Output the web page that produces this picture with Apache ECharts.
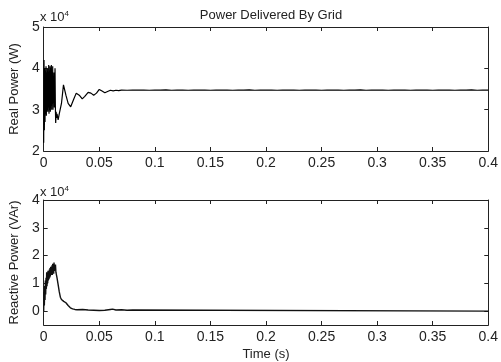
<!DOCTYPE html>
<html>
<head>
<meta charset="utf-8">
<title>Power Delivered By Grid</title>
<script src="https://cdn.jsdelivr.net/npm/echarts@6/dist/echarts.min.js"></script>
<style>
  html, body { margin: 0; padding: 0; background: #fff; }
  #chart { width: 501px; height: 362px; }
</style>
</head>
<body>
<div id="chart"></div>
<script>
// time ticks shared by both plots
const timeTicks = [0, 0.05, 0.1, 0.15, 0.2, 0.25, 0.3, 0.35, 0.4];
const realTicks = [20000, 30000, 40000, 50000];
const reactTicks = [0, 10000, 20000, 30000, 40000];

// real power (W)
const timeP = [
  0, 0.0003, 0.0006, 0.0009, 0.0012, 0.0015, 0.0018, 0.0021, 0.0024, 0.0027,
  0.003, 0.0033, 0.0036, 0.0039, 0.0042, 0.0045, 0.0048, 0.0051, 0.0054, 0.0057,
  0.006, 0.0063, 0.0066, 0.0069, 0.0072, 0.0075, 0.0078, 0.0081, 0.0084, 0.0087,
  0.009, 0.0093, 0.0096, 0.0099, 0.0102, 0.0105, 0.0108, 0.0112, 0.0116, 0.012,
  0.013, 0.014, 0.015, 0.016, 0.0178, 0.02, 0.022, 0.0243, 0.027, 0.0293,
  0.032, 0.0347, 0.037, 0.04, 0.0425, 0.045, 0.0475, 0.05, 0.0525, 0.055,
  0.0575, 0.06, 0.0625, 0.065, 0.0675, 0.07, 0.075, 0.08, 0.085, 0.09,
  0.095, 0.1, 0.105, 0.11, 0.115, 0.12, 0.125, 0.13, 0.135, 0.14,
  0.145, 0.15, 0.155, 0.16, 0.165, 0.17, 0.175, 0.18, 0.185, 0.19,
  0.195, 0.2, 0.205, 0.21, 0.215, 0.22, 0.225, 0.23, 0.235, 0.24,
  0.245, 0.25, 0.255, 0.26, 0.265, 0.27, 0.275, 0.28, 0.285, 0.29,
  0.295, 0.3, 0.305, 0.31, 0.315, 0.32, 0.325, 0.33, 0.335, 0.34,
  0.345, 0.35, 0.355, 0.36, 0.365, 0.37, 0.375, 0.38, 0.385, 0.39,
  0.395, 0.4
];
const realP = [
  22000, 42000, 25000, 40000, 27000, 39500, 29000, 40500, 28500, 39000,
  30000, 40000, 29500, 38500, 30500, 40800, 29000, 39500, 30000, 40500,
  29500, 40000, 31000, 40800, 30000, 39000, 31500, 40500, 30000, 38000,
  32000, 39000, 30500, 35000, 40000, 31000, 26800, 29500, 28000, 29000,
  27500, 29000, 28800, 31500, 36000, 33500, 31500, 30700, 32500, 34000,
  33500, 32600, 33200, 34200, 34000, 33500, 34000, 34900, 34500, 34100,
  34400, 34700, 34550, 34700, 34600, 34720, 34700, 34760, 34720, 34740,
  34700, 34760, 34720, 34780, 34700, 34740, 34760, 34700, 34740, 34720,
  34760, 34700, 34740, 34720, 34760, 34700, 34740, 34720, 34780, 34700,
  34740, 34720, 34760, 34700, 34740, 34720, 34760, 34700, 34740, 34720,
  34760, 34700, 34740, 34720, 34760, 34700, 34740, 34720, 34780, 34700,
  34740, 34720, 34760, 34700, 34740, 34720, 34760, 34700, 34740, 34720,
  34760, 34700, 34740, 34720, 34760, 34700, 34740, 34720, 34780, 34700,
  34740, 34720
];

// reactive power (VAr)
const timeQ = [
  0, 0.0003, 0.0006, 0.0009, 0.0012, 0.0015, 0.0018, 0.0021, 0.0024, 0.0027,
  0.003, 0.0033, 0.0036, 0.0039, 0.0042, 0.0045, 0.0048, 0.0051, 0.0054, 0.0057,
  0.006, 0.0063, 0.0066, 0.0069, 0.0072, 0.0075, 0.0078, 0.0081, 0.0084, 0.0087,
  0.009, 0.0093, 0.0096, 0.0099, 0.0102, 0.0106, 0.011, 0.012, 0.013, 0.014,
  0.015, 0.016, 0.017, 0.018, 0.019, 0.02, 0.022, 0.024, 0.026, 0.028,
  0.03, 0.035, 0.04, 0.045, 0.05, 0.055, 0.06, 0.062, 0.065, 0.07,
  0.075, 0.08, 0.081, 0.4
];
const reactQ = [
  0, 7000, 2000, 9000, 4000, 11000, 6000, 12000, 8000, 14000,
  9000, 13500, 10000, 14500, 11000, 14000, 11500, 15000, 12000, 15500,
  12500, 16000, 13000, 15000, 13500, 16500, 13000, 17000, 14000, 16000,
  13500, 17500, 14500, 16500, 15500, 16800, 14000, 12000, 9500, 7000,
  5000, 4200, 3700, 3500, 3200, 3000, 2000, 1200, 800, 600,
  500, 600, 400, 300, 200, 300, 600, 700, 400, 500,
  300, 400, 0, 0
];

const font = 'Liberation Sans, Arial, sans-serif';
const ink = '#222';

function pairs(xs, ys) {
  return xs.map((x, i) => [x, ys[i]]);
}

function timeAxis(grid, pos, withLabels, name) {
  return {
    type: 'value', gridIndex: grid, position: pos,
    min: 0, max: 0.4, interval: 0.05,
    name: name || '', nameLocation: 'middle', nameGap: 23,
    nameTextStyle: { color: ink, fontSize: 13, fontFamily: font },
    axisLine: { show: true, onZero: false, lineStyle: { color: ink, width: 1 } },
    axisTick: { show: true, inside: true, length: 4, lineStyle: { color: ink } },
    axisLabel: {
      show: withLabels, margin: 5, color: ink, fontSize: 14, fontFamily: font,
      formatter: v => String(+v.toFixed(2))
    },
    splitLine: { show: false }
  };
}

function valueAxis(grid, pos, min, max, ticks, withLabels, name) {
  return {
    type: 'value', gridIndex: grid, position: pos,
    min: min, max: max,
    name: name || '', nameLocation: 'middle', nameGap: 19, nameRotate: 90,
    nameTextStyle: { color: ink, fontSize: 13, fontFamily: font },
    axisLine: { show: true, onZero: false, lineStyle: { color: ink, width: 1 } },
    axisTick: { show: true, inside: true, length: 4, customValues: ticks, lineStyle: { color: ink } },
    axisLabel: {
      show: withLabels, margin: 4, color: ink, fontSize: 14, fontFamily: font,
      customValues: ticks, formatter: v => String(Math.round(v / 10000))
    },
    splitLine: { show: false }
  };
}

const chart = echarts.init(document.getElementById('chart'));
const option = {
  animation: false,
  backgroundColor: '#fff',
  title: {
    text: 'Power Delivered By Grid', left: 266, top: 4, textAlign: 'center',
    textStyle: { color: ink, fontSize: 13, fontWeight: 'normal', fontFamily: font }
  },
  grid: [
    { left: 41, right: 10, top: 27, height: 124 },
    { left: 41, right: 10, top: 200, height: 125 }
  ],
  xAxis: [
    timeAxis(0, 'bottom', true),
    timeAxis(0, 'top', false),
    timeAxis(1, 'bottom', true, 'Time (s)'),
    timeAxis(1, 'top', false)
  ],
  yAxis: [
    valueAxis(0, 'left', 20000, 50000, realTicks, true, 'Real Power (W)'),
    valueAxis(0, 'right', 20000, 50000, realTicks, false),
    valueAxis(1, 'left', -5000, 40000, reactTicks, true, 'Reactive Power (VAr)'),
    valueAxis(1, 'right', -5000, 40000, reactTicks, false)
  ],
  graphic: [
    {
      type: 'text', left: 40, top: 10,
      style: {
        text: 'x 10{s|4}', fill: ink, font: '13px ' + font,
        rich: { s: { fontSize: 8, verticalAlign: 'top', padding: [0, 0, 7, 0], fill: ink } }
      }
    },
    {
      type: 'text', left: 40, top: 185,
      style: {
        text: 'x 10{s|4}', fill: ink, font: '13px ' + font,
        rich: { s: { fontSize: 8, verticalAlign: 'top', padding: [0, 0, 7, 0], fill: ink } }
      }
    }
  ],
  series: [
    {
      type: 'line', xAxisIndex: 0, yAxisIndex: 0, data: pairs(timeP, realP),
      showSymbol: false, lineStyle: { color: '#000', width: 1.2 }
    },
    {
      type: 'line', xAxisIndex: 2, yAxisIndex: 2, data: pairs(timeQ, reactQ),
      showSymbol: false, lineStyle: { color: '#111', width: 1.4 }
    }
  ]
};
chart.setOption(option);
window.addEventListener('resize', function () {
  chart.resize();
});
</script>
</body>
</html>
